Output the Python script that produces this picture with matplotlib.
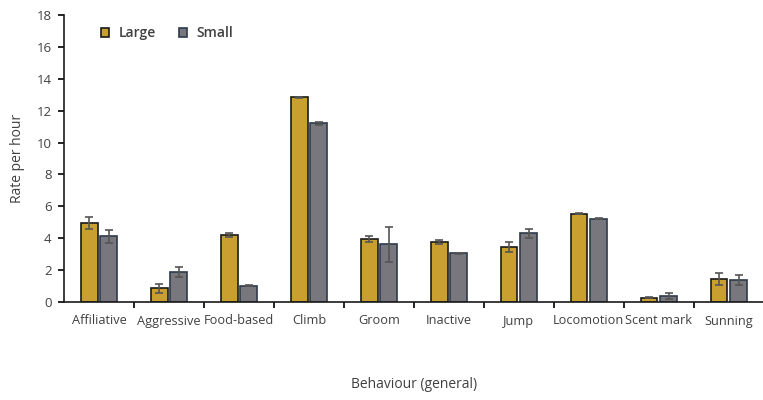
import numpy as np
import matplotlib.pyplot as plt

plt.rcParams['font.family'] = ['Open Sans', 'DejaVu Sans']

behaviours = ['Affiliative', 'Aggressive', 'Food-based', 'Climb', 'Groom',
              'Inactive', 'Jump', 'Locomotion', 'Scent mark', 'Sunning']
large = [4.95, 0.86, 4.2, 12.85, 3.95, 3.78, 3.45, 5.55, 0.27, 1.44]
large_err = [0.35, 0.3, 0.1, 0.03, 0.2, 0.12, 0.3, 0.05, 0.04, 0.4]
small = [4.12, 1.88, 1.02, 11.2, 3.62, 3.05, 4.3, 5.22, 0.38, 1.38]
small_err = [0.4, 0.3, 0.02, 0.12, 1.1, 0.03, 0.3, 0.02, 0.2, 0.3]

text_col = '#404040'
fig = plt.figure(figsize=(7.63, 4.0), dpi=100)
ax = fig.add_axes([0.084, 0.245, 0.917, 0.7175])

x = np.arange(len(behaviours))
w = 0.24
err_kw = dict(ecolor='#555555', elinewidth=1.2, capsize=3, capthick=1.2)
ax.bar(x - w / 2 - 0.02, large, w, yerr=large_err, color='#C9A030',
       edgecolor='#1a1a1a', linewidth=1.2, label='Large', error_kw=err_kw)
ax.bar(x + w / 2 + 0.02, small, w, yerr=small_err, color='#77777D',
       edgecolor='#2e3a4a', linewidth=1.2, label='Small', error_kw=err_kw)

ax.set_xlim(-0.5, len(behaviours) - 0.5)
ax.set_ylim(0, 18)
ax.set_yticks(np.arange(0, 19, 2))
ax.set_xticks(x)
ax.set_xticklabels(behaviours, fontsize=9.2, color=text_col)
ax.set_xticks(x[:-1] + 0.5, minor=True)
ax.tick_params(axis='x', which='major', length=0, pad=9)
ax.tick_params(axis='x', which='minor', length=4, width=1.2, direction='out')
ax.tick_params(axis='y', labelsize=9.5, labelcolor=text_col, length=4,
               width=1.2, pad=5)

for side in ['top', 'right']:
    ax.spines[side].set_visible(False)
for side in ['left', 'bottom']:
    ax.spines[side].set_linewidth(1.2)
    ax.spines[side].set_color('#1a1a1a')

ax.set_ylabel('Rate per hour', fontsize=10, color=text_col, labelpad=8)
ax.set_xlabel('Behaviour (general)', fontsize=10, color=text_col, labelpad=36)

ax.legend(loc='upper left', bbox_to_anchor=(0.035, 1.005), ncol=2, frameon=False,
          prop={'size': 10, 'weight': 'semibold'}, labelcolor=text_col,
          handlelength=0.6, handleheight=0.6, columnspacing=1.6,
          handletextpad=0.7)

fig.savefig('out.png', dpi=100)
